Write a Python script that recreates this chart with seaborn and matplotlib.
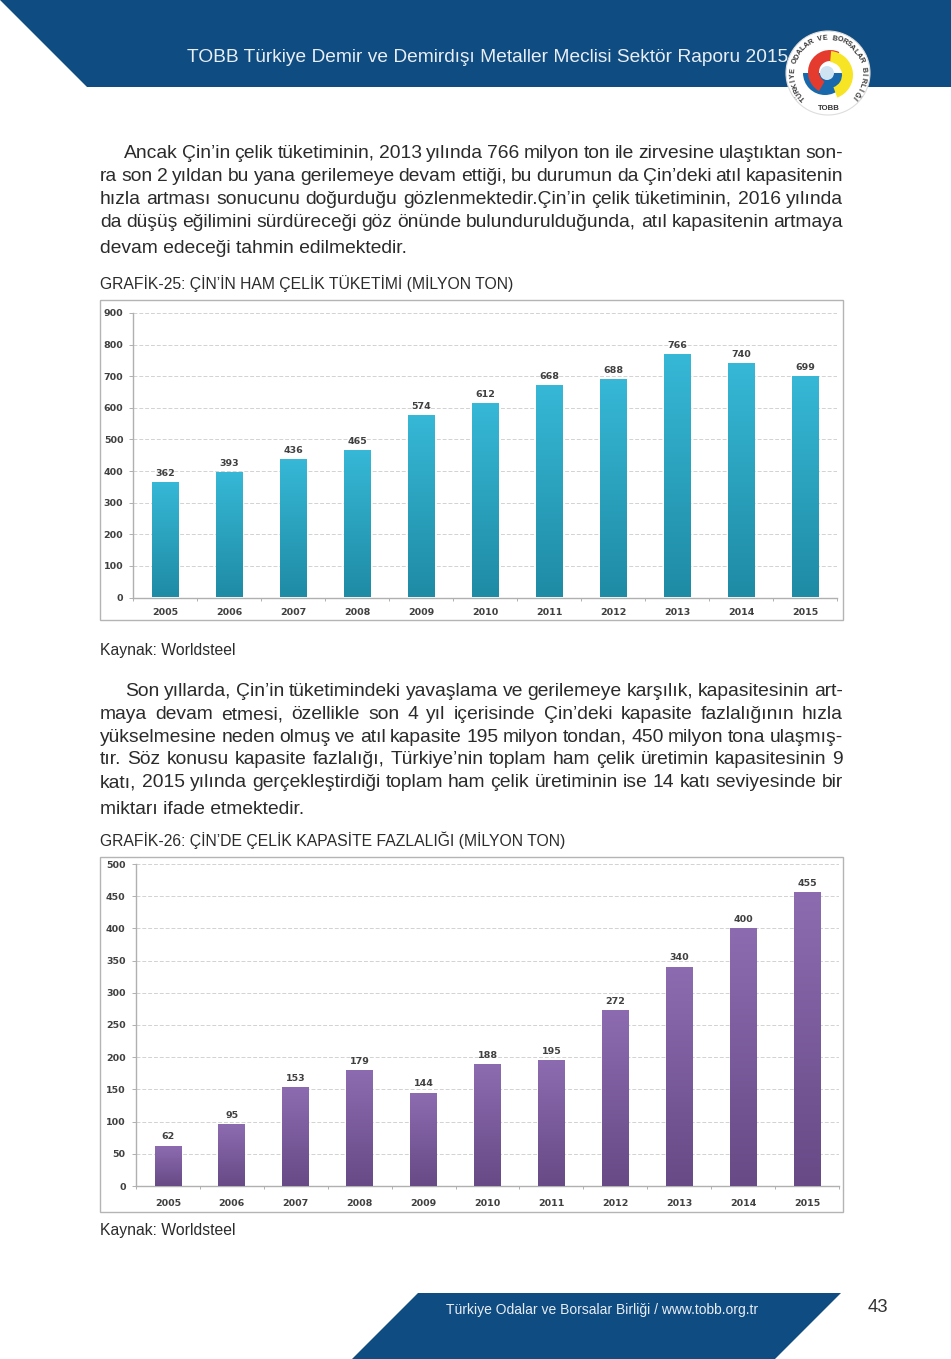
import numpy as np
import pandas as pd
import matplotlib
matplotlib.use("Agg")
import matplotlib.pyplot as plt
import seaborn as sns
from matplotlib.colors import LinearSegmentedColormap
from matplotlib.patches import Polygon, Circle, Wedge, Rectangle

years = ["2005", "2006", "2007", "2008", "2009", "2010", "2011", "2012", "2013", "2014", "2015"]
tuketim = [362, 393, 436, 465, 574, 612, 668, 688, 766, 740, 699]
kapasite = [62, 95, 153, 179, 144, 188, 195, 272, 340, 400, 455]
ticks_tuketim = [0, 100, 200, 300, 400, 500, 600, 700, 800, 900]
ticks_kapasite = [0, 50, 100, 150, 200, 250, 300, 350, 400, 450, 500]

header_title = "TOBB Türkiye Demir ve Demirdışı Metaller Meclisi Sektör Raporu 2015"
footer_text = "Türkiye Odalar ve Borsalar Birliği / www.tobb.org.tr"
page_no = "43"
title_25 = "GRAFİK-25: ÇİN’İN HAM ÇELİK TÜKETİMİ (MİLYON TON)"
title_26 = "GRAFİK-26: ÇİN’DE ÇELİK KAPASİTE FAZLALIĞI (MİLYON TON)"
source = "Kaynak: Worldsteel"
para_1 = [
    "Ancak Çin’in çelik tüketiminin, 2013 yılında 766 milyon ton ile zirvesine ulaştıktan son-",
    "ra son 2 yıldan bu yana gerilemeye devam ettiği, bu durumun da Çin’deki atıl kapasitenin",
    "hızla artması sonucunu doğurduğu gözlenmektedir.Çin’in çelik tüketiminin, 2016 yılında",
    "da düşüş eğilimini sürdüreceği göz önünde bulundurulduğunda, atıl kapasitenin artmaya",
    "devam edeceği tahmin edilmektedir.",
]
para_2 = [
    "Son yıllarda, Çin’in tüketimindeki yavaşlama ve gerilemeye karşılık, kapasitesinin art-",
    "maya devam etmesi, özellikle son 4 yıl içerisinde Çin’deki kapasite fazlalığının hızla",
    "yükselmesine neden olmuş ve atıl kapasite 195 milyon tondan, 450 milyon tona ulaşmış-",
    "tır. Söz konusu kapasite fazlalığı, Türkiye’nin toplam ham çelik üretimin kapasitesinin 9",
    "katı, 2015 yılında gerçekleştirdiği toplam ham çelik üretiminin ise 14 katı seviyesinde bir",
    "miktarı ifade etmektedir.",
]
logo_top = "TÜRKİYE ODALAR VE BORSALAR BİRLİĞİ"

W, H = 951, 1359
BLUE = "#0f4c81"
TEXT = "#2b2b2b"

sns.set_theme(style="white")
plt.rcParams["font.family"] = ["Liberation Sans", "DejaVu Sans"]

fig = plt.figure(figsize=(W / 100, H / 100), dpi=100, facecolor="white")
page = fig.add_axes([0, 0, 1, 1], zorder=0)
page.set_xlim(0, W)
page.set_ylim(H, 0)
page.axis("off")


def justify(line, x0, x1, y, size, indent=0, fill=True):
    renderer = fig.canvas.get_renderer()
    if not fill:
        page.text(x0 + indent, y, line, fontsize=size, color=TEXT, va="center", ha="left")
        return
    words = line.split(" ")
    widths = []
    for w in words:
        t = page.text(0, 0, w, fontsize=size)
        widths.append(t.get_window_extent(renderer).width)
        t.remove()
    gap = (x1 - x0 - indent - sum(widths)) / (len(words) - 1)
    x = x0 + indent
    for w, wd in zip(words, widths):
        page.text(x, y, w, fontsize=size, color=TEXT, va="center", ha="left")
        x += wd + gap


# header and footer bands
page.add_patch(Polygon([(0, 0), (951, 0), (951, 87), (87, 87)], fc=BLUE, ec="none"))
page.add_patch(Polygon([(418, 1293), (841, 1293), (775, 1359), (352, 1359)], fc=BLUE, ec="none"))
page.text(187, 57, header_title, fontsize=13.75, color="#e8eef5", va="center", ha="left")
page.text(446, 1310, footer_text, fontsize=10, color="#e8eef5", va="center", ha="left")
page.text(878, 1307, page_no, fontsize=13.4, color="#333333", va="center", ha="center")

# logo (y axis is inverted, so wedge angles run clockwise)
cx, cy = 828, 73
page.add_patch(Circle((cx, cy), 42, fc="white", ec="#dddddd", lw=0.8, zorder=3))
page.add_patch(Wedge((cx - 3, cy), 22, 0, 180, fc="#1769ab", ec="none", zorder=4))
page.add_patch(Circle((cx - 1, cy), 7, fc="#cfe4f2", ec="none", zorder=5))
page.add_patch(Wedge((cx + 2, cy - 1), 22, 120, 295, width=11, fc="#e53b2e", ec="none", zorder=6))
page.add_patch(Wedge((cx + 1, cy + 2), 24, -85, 70, width=11, fc="#f7e425", ec="none", zorder=7))
angles = np.linspace(225, -43, len(logo_top))
for ch, a in zip(logo_top, angles):
    rad = np.deg2rad(a)
    page.text(cx + 35 * np.cos(rad), cy - 35 * np.sin(rad), ch, fontsize=5.2, fontweight="bold",
              color="#333333", rotation=a - 90, ha="center", va="center", zorder=8,
              rotation_mode="anchor")
page.text(cx + 1, cy + 35.5, "TOBB", fontsize=5.6, fontweight="bold", color="#333333",
          ha="center", va="center", zorder=8)

# body text
ys_1 = [153.5, 176.5, 199, 222.5, 248.5]
for i, (line, y) in enumerate(zip(para_1, ys_1)):
    justify(line, 100, 843, y, 13.9, indent=24 if i == 0 else 0, fill=i < len(para_1) - 1)
ys_2 = [691, 714.5, 737, 760, 782.5, 809]
for i, (line, y) in enumerate(zip(para_2, ys_2)):
    justify(line, 100, 843, y, 13.9, indent=25 if i == 0 else 0, fill=i < len(para_2) - 1)

page.text(100, 284, title_25, fontsize=11.37, color=TEXT, va="center")
page.text(100, 840, title_26, fontsize=11.37, color=TEXT, va="center")
page.text(100, 651, source, fontsize=11.35, color=TEXT, va="center")
page.text(100, 1230, source, fontsize=11.35, color=TEXT, va="center")
page.add_patch(Rectangle((100, 300), 743, 320, fc="white", ec="#b4b4b4", lw=1))
page.add_patch(Rectangle((100, 857), 743, 355, fc="white", ec="#b4b4b4", lw=1))


def draw_chart(box, values, ticks, top, c_top, c_bottom, xpad, ypad):
    left, right, y_top, y_zero = box
    ax = fig.add_axes([left / W, 1 - y_zero / H, (right - left) / W, (y_zero - y_top) / H],
                      zorder=1, facecolor="none")
    df = pd.DataFrame({"yil": years, "deger": values})
    sns.barplot(data=df, x="yil", y="deger", ax=ax, width=0.42, color=c_top, saturation=1, zorder=3)
    ax.set_xlabel("")
    ax.set_ylabel("")
    ax.set_yticks(ticks)
    ax.yaxis.grid(True, color="#d2d2d2", ls=(0, (4, 2)), lw=0.7, zorder=0)
    ax.set_axisbelow(True)
    sns.despine(ax=ax, top=True, right=True)
    for s in ["left", "bottom"]:
        ax.spines[s].set_color("#b0b0b0")
        ax.spines[s].set_linewidth(1)
    ax.tick_params(axis="y", length=3, width=0.7, color="#b0b0b0", pad=ypad, left=True)
    ax.tick_params(axis="x", length=0, pad=xpad)
    ax.set_xticks(np.arange(-0.5, len(years)), minor=True)
    ax.tick_params(axis="x", which="minor", length=2.5, width=0.7, color="#b0b0b0", bottom=True)
    for lab in ax.get_xticklabels() + ax.get_yticklabels():
        lab.set_fontfamily("DejaVu Sans")
        lab.set_fontsize(6.8)
        lab.set_fontweight("bold")
        lab.set_color("#404040")

    # gradient fill over each bar, light at the top and dark at the base
    cmap = LinearSegmentedColormap.from_list("bar", [c_top, c_bottom])
    grad = np.linspace(0, 1, 128).reshape(-1, 1)
    for bar, val in zip(list(ax.patches), values):
        x0, w, h = bar.get_x(), bar.get_width(), bar.get_height()
        bar.set_visible(False)
        ax.imshow(grad, extent=(x0, x0 + w, 0, h), origin="upper", cmap=cmap, vmin=0, vmax=1,
                  aspect="auto", zorder=3)
        ax.annotate(str(val), (x0 + w / 2, h), xytext=(0, 3.5), textcoords="offset points",
                    ha="center", va="bottom", fontsize=6.8, fontweight="bold",
                    family="DejaVu Sans", color="#404040", zorder=5)
    ax.set_xlim(-0.5, len(years) - 0.5)
    ax.set_ylim(0, top)
    return ax


draw_chart((133, 837, 313, 597.5), tuketim, ticks_tuketim, 900, "#36b8d6", "#1f8ba5", 7.5, 4)
draw_chart((136, 839, 864, 1186), kapasite, ticks_kapasite, 500, "#8d6bb0", "#674a86", 9, 4.5)

fig.savefig("out.png", dpi=100, facecolor="white")
